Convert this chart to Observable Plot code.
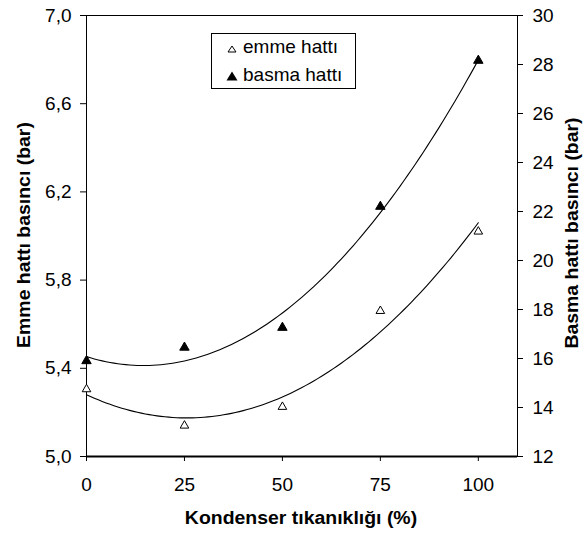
<!DOCTYPE html>
<html>
<head>
<meta charset="utf-8">
<script src="https://cdn.jsdelivr.net/npm/d3@7"></script>
<script src="https://cdn.jsdelivr.net/npm/@observablehq/plot@0.6"></script>
<style>
  html, body { margin: 0; padding: 0; background: white; }
  #wrap { position: relative; width: 588px; height: 533px; font-family: "Liberation Sans", Arial, sans-serif; color: black; }
  .lbl { position: absolute; font-weight: bold; font-size: 18px; white-space: nowrap; }
  #legend { position: absolute; left: 211px; top: 33px; width: 143px; height: 54px; border: 1px solid black; background: white; font-size: 19px; }
  #legend span { position: absolute; left: 31px; line-height: 20px; white-space: nowrap; }
  #legend svg { position: absolute; }
</style>
</head>
<body>
<div id="wrap"></div>
<script>
// ---- data ----
const xValues = [0, 25, 50, 75, 100];
const emmeValues = [5.305, 5.14, 5.225, 5.66, 6.02];      // left axis (bar)
const basmaValues = [15.9, 16.45, 17.26, 22.2, 28.16];    // right axis (bar)
const xTicks = [0, 25, 50, 75, 100];
const leftTicks = [5.0, 5.4, 5.8, 6.2, 6.6, 7.0];
const rightTicks = [12, 14, 16, 18, 20, 22, 24, 26, 28, 30];
const seriesNames = ["emme hattı", "basma hattı"];

// right axis (12..30) mapped onto left axis (5..7)
const toLeft = v => 5 + (v - 12) * (2 / 18);
const fromLeft = d => 12 + (d - 5) * 9;

// 2nd-order polynomial trendline (least squares), as in the original
function quadFit(xs, ys) {
  let S = [0,0,0,0,0], T = [0,0,0];
  xs.forEach((x, i) => {
    for (let k = 0; k < 5; k++) S[k] += Math.pow(x, k);
    for (let k = 0; k < 3; k++) T[k] += ys[i] * Math.pow(x, k);
  });
  const A = [[S[0],S[1],S[2],T[0]],[S[1],S[2],S[3],T[1]],[S[2],S[3],S[4],T[2]]];
  for (let c = 0; c < 3; c++) {
    for (let r = c + 1; r < 3; r++) {
      const f = A[r][c] / A[c][c];
      for (let k = c; k < 4; k++) A[r][k] -= f * A[c][k];
    }
  }
  const b = [0,0,0];
  for (let r = 2; r >= 0; r--) {
    let s = A[r][3];
    for (let k = r + 1; k < 3; k++) s -= A[r][k] * b[k];
    b[r] = s / A[r][r];
  }
  return x => b[0] + b[1] * x + b[2] * x * x;
}
const fE = quadFit(xValues, emmeValues);
const fB = quadFit(xValues, basmaValues);
const xs = d3.range(0, 100.001, 1);
const trendE = xs.map(x => ({x, y: fE(x)}));
const trendB = xs.map(x => ({x, y: toLeft(fB(x))}));

const emme = xValues.map((x, i) => ({x, y: emmeValues[i]}));
const basma = xValues.map((x, i) => ({x, y: toLeft(basmaValues[i])}));

const chart = Plot.plot({
  width: 588, height: 533,
  marginLeft: 86, marginRight: 71, marginTop: 15, marginBottom: 77,
  x: {domain: [0, 110]},
  y: {domain: [5, 7]},
  style: {fontFamily: "'Liberation Sans', Arial, sans-serif", fontSize: "19px", color: "black", background: "white"},
  marks: [
    Plot.frame({stroke: "black", strokeWidth: 1}),
    Plot.ruleY([5], {stroke: "black", strokeWidth: 2}),
    Plot.axisX(xTicks, {anchor: "bottom", tickSize: 5, tickPadding: 16, label: null, fontSize: 19, tickFormat: d => String(d)}),
    Plot.axisY(leftTicks, {anchor: "left", tickSize: 6, tickPadding: 9, label: null, fontSize: 19, tickFormat: d => d.toFixed(1).replace(".", ",")}),
    Plot.axisY(rightTicks.map(toLeft), {anchor: "right", tickSize: 5, tickPadding: 10, label: null, fontSize: 19, tickFormat: d => String(Math.round(fromLeft(d)))}),
    Plot.line(trendE, {x: "x", y: "y", stroke: "black", strokeWidth: 1.1}),
    Plot.line(trendB, {x: "x", y: "y", stroke: "black", strokeWidth: 1.1}),
    Plot.dot(emme, {x: "x", y: "y", symbol: "triangle", r: 3.2, stroke: "black", strokeWidth: 1, fill: "white"}),
    Plot.dot(basma, {x: "x", y: "y", symbol: "triangle", r: 3.5, stroke: "black", strokeWidth: 1, fill: "black"})
  ]
});

const wrap = document.getElementById("wrap");
wrap.appendChild(chart);

function addLabel(text, css) {
  const d = document.createElement("div");
  d.className = "lbl";
  d.textContent = text;
  Object.assign(d.style, css);
  wrap.appendChild(d);
  return d;
}
addLabel("Emme hattı basıncı (bar)", {left: "24px", top: "235px", transform: "translate(-50%,-50%) rotate(-90deg) scaleX(1.08)"});
addLabel("Basma hattı basıncı (bar)", {left: "572px", top: "233px", transform: "translate(-50%,-50%) rotate(-90deg) scaleX(1.08)"});
addLabel("Kondenser tıkanıklığı (%)", {left: "301px", top: "518px", transform: "translate(-50%,-50%) scaleX(1.08)"});

const legend = document.createElement("div");
legend.id = "legend";
legend.innerHTML =
  `<svg style="left:15px;top:11px" width="10" height="8" viewBox="0 0 10 8"><path d="M5 1 L9 7 L1 7 Z" fill="white" stroke="black" stroke-width="1"/></svg>` +
  `<span style="top:3px">${seriesNames[0]}</span>` +
  `<svg style="left:14px;top:37px" width="12" height="10" viewBox="0 0 12 10"><path d="M6 0.5 L11.5 9.5 L0.5 9.5 Z" fill="black"/></svg>` +
  `<span style="top:31px">${seriesNames[1]}</span>`;
wrap.appendChild(legend);
</script>
</body>
</html>
